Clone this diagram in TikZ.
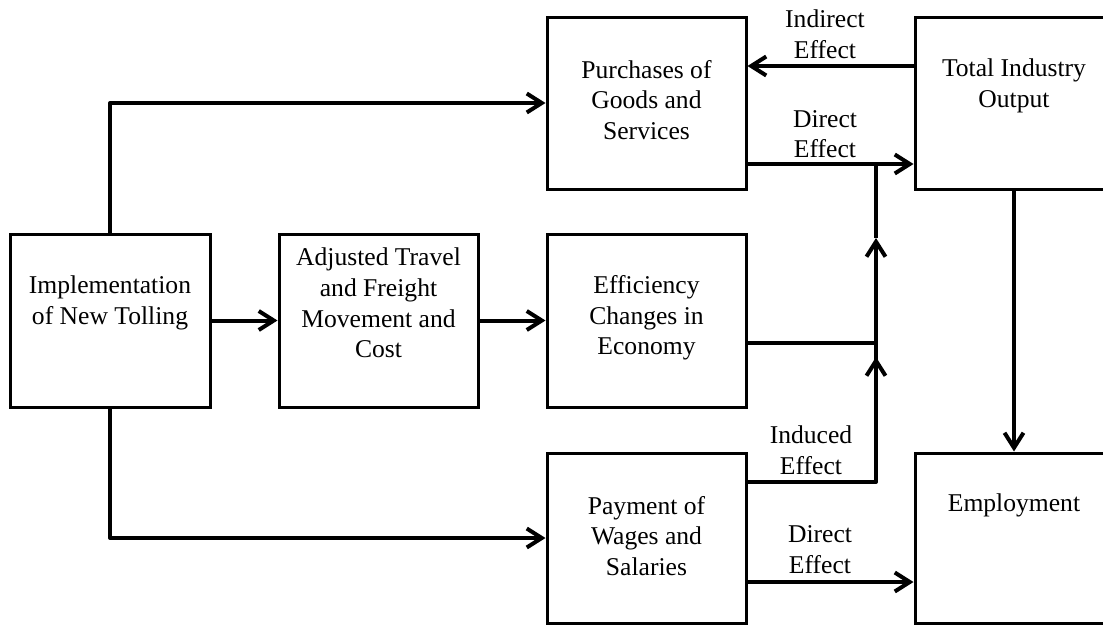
\documentclass[tikz,border=0pt]{standalone}
\usepackage{fontspec}
\setmainfont{Liberation Serif}
\usetikzlibrary{arrows.meta}
\begin{document}
\begin{tikzpicture}[x=1pt,y=-1pt,
  box/.style={draw=black,line width=3pt,rectangle,inner sep=0pt},
  txt/.style={align=center,inner sep=0pt,font=\fontsize{25.6}{30.7}\selectfont},
  conn/.style={line width=4pt,line join=round},
  arr/.style={conn,-{Straight Barb[length=15pt,width=19pt,line width=4pt]}}]
\clip (0,0) rectangle (1103,624);
% boxes
\node[box,minimum width=200pt,minimum height=173pt] (impl) at (110,320.5) {};
\node[box,minimum width=199pt,minimum height=173pt] (adj) at (378.5,320.5) {};
\node[box,minimum width=199pt,minimum height=173pt] (eff) at (646.5,320.5) {};
\node[box,minimum width=199pt,minimum height=172pt] (pur) at (646.5,103) {};
\node[box,minimum width=198pt,minimum height=172pt] (tio) at (1014,103) {};
\node[box,minimum width=199pt,minimum height=170pt] (pay) at (646.5,538) {};
\node[box,minimum width=198pt,minimum height=170pt] (emp) at (1014,538) {};
% box texts
\node[txt] (implT) at (110,303) {Implementation\\of New Tolling};
\node[txt] (adjT) at (378.5,303) {Adjusted Travel\\and Freight\\Movement and\\Cost};
\node[txt] (effT) at (646.5,318) {Efficiency\\Changes in\\Economy};
\node[txt] (purT) at (646.5,100) {Purchases of\\Goods and\\Services};
\node[txt] (tioT) at (1014,86) {Total Industry\\Output};
\node[txt] (payT) at (646.5,536) {Payment of\\Wages and\\Salaries};
\node[txt] (empT) at (1014,505) {Employment};
% edge labels
\node[txt] (lInd) at (825,34.5) {Indirect\\Effect};
\node[txt] (lDir1) at (825,134) {Direct\\Effect};
\node[txt] (lIndu) at (811,450.5) {Induced\\Effect};
\node[txt] (lDir2) at (820,549.5) {Direct\\Effect};
% helper coordinates
\coordinate (yInd) at (0,66);
\coordinate (yDir) at (0,164);
\coordinate (yEff) at (0,343);
\coordinate (yIndu) at (0,482);
\coordinate (yDir2) at (0,582);
\coordinate (jTop) at (876,164);
\coordinate (jEff) at (876,343);
\coordinate (jInd) at (876,482);
\coordinate (tipA) at (876,238);
\coordinate (tipB) at (876,357);
% connectors
\draw[arr] (impl.north) |- (pur.west);
\draw[arr] (impl.south) |- (pay.west);
\draw[arr] (impl) -- (adj);
\draw[arr] (adj) -- (eff);
\draw[arr] (tio.west |- yInd) -- (pur.east |- yInd);
\draw[arr] (pur.east |- yDir) -- (tio.west |- yDir);
\draw[conn] (eff.east |- yEff) -- (jEff);
\draw[conn] (pay.east |- yIndu) -- (jInd) -- (tipB);
\draw[arr] (jInd) -- (tipB);
\draw[arr] (tipB) -- (tipA);
\draw[conn] (tipA) -- (jTop);
\draw[arr] (tio) -- (emp);
\draw[arr] (pay.east |- yDir2) -- (emp.west |- yDir2);
\end{tikzpicture}
\end{document}
